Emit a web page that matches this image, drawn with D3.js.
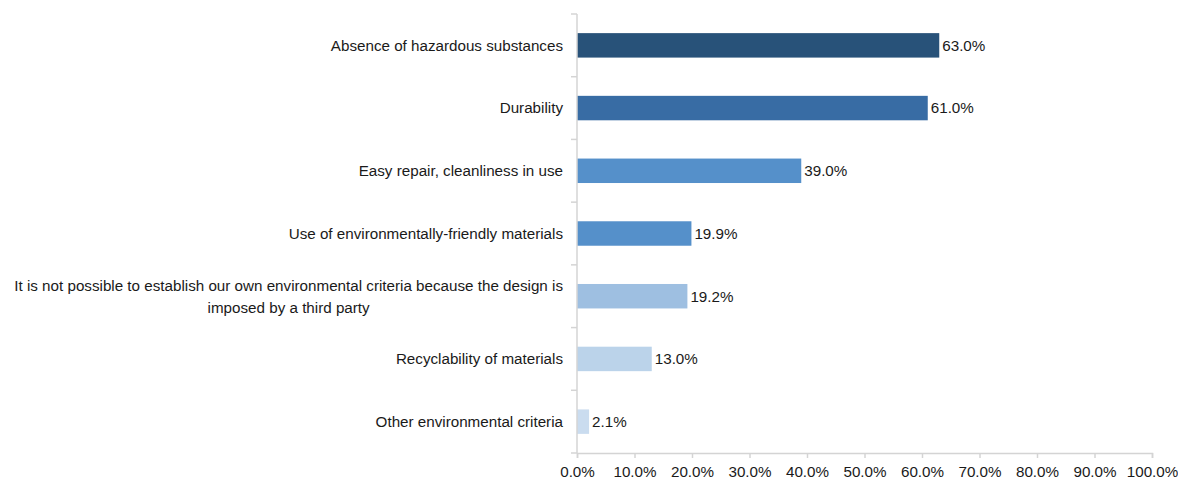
<!DOCTYPE html>
<html>
<head>
<meta charset="utf-8">
<script src="https://cdn.jsdelivr.net/npm/d3@7"></script>
<style>
  html, body { margin: 0; padding: 0; background: #fff; }
  svg { display: block; font-family: "Liberation Sans", Arial, sans-serif; }
</style>
</head>
<body>
<svg id="chart" width="1178" height="480"></svg>
<script>
// Environmental criteria considered in product design (% of respondents)
const categories = [
  "Absence of hazardous substances",
  "Durability",
  "Easy repair, cleanliness in use",
  "Use of environmentally-friendly materials",
  "It is not possible to establish our own environmental criteria because the design is|imposed by a third party",
  "Recyclability of materials",
  "Other environmental criteria"
];
const values = [63.0, 61.0, 39.0, 19.9, 19.2, 13.0, 2.1];
const barColors = ["#285279", "#386ca4", "#5590ca", "#5590ca", "#9ebfe1", "#bbd3ea", "#cadcef"];
const xTicks = [0, 10, 20, 30, 40, 50, 60, 70, 80, 90, 100];

const svg = d3.select("#chart");
const margin = { top: 14, right: 26, bottom: 27, left: 577 };
const W = 1178, H = 480;
const fontSize = 15.2;

const x = d3.scaleLinear().domain([0, 100]).range([margin.left, W - margin.right]);
const y = d3.scaleBand().domain(categories).range([margin.top, H - margin.bottom]).padding(0);
const barH = y.bandwidth() * 0.39;

const axisColor = "#d4d4d4";

// bars
svg.append("g").selectAll("rect")
  .data(categories)
  .join("rect")
  .attr("x", x(0))
  .attr("y", d => y(d) + (y.bandwidth() - barH) / 2)
  .attr("width", (d, i) => x(values[i]) - x(0))
  .attr("height", barH)
  .attr("fill", (d, i) => barColors[i]);

// value labels
svg.append("g").selectAll("text")
  .data(categories)
  .join("text")
  .attr("x", (d, i) => x(values[i]) + 3)
  .attr("y", d => y(d) + y.bandwidth() / 2)
  .attr("dy", "0.35em")
  .attr("font-size", fontSize)
  .attr("fill", "#1a1a1a")
  .text((d, i) => values[i].toFixed(1) + "%");

// left axis line and category separators
const yAxisG = svg.append("g");
yAxisG.append("line")
  .attr("x1", x(0)).attr("x2", x(0))
  .attr("y1", margin.top).attr("y2", H - margin.bottom)
  .attr("stroke", axisColor).attr("stroke-width", 1.5);
const bounds = categories.map(d => y(d)).concat([y.range()[1]]);
yAxisG.selectAll("line.sep")
  .data(bounds)
  .join("line")
  .attr("class", "sep")
  .attr("x1", x(0) - 6).attr("x2", x(0))
  .attr("y1", d => d).attr("y2", d => d)
  .attr("stroke", axisColor).attr("stroke-width", 1.5);

// category labels (multi-line labels centred within their block, block right-aligned)
const labelRight = x(0) - 14;
categories.forEach(cat => {
  const lines = cat.split("|");
  const cy = y(cat) + y.bandwidth() / 2;
  const lh = 22;
  const g = svg.append("g");
  const texts = lines.map((ln, k) =>
    g.append("text")
      .attr("y", cy + (k - (lines.length - 1) / 2) * lh)
      .attr("dy", "0.35em")
      .attr("font-size", fontSize)
      .attr("fill", "#1a1a1a")
      .text(ln)
  );
  const widths = texts.map(t => t.node().getComputedTextLength());
  const maxW = Math.max(...widths);
  const centre = labelRight - maxW / 2;
  texts.forEach(t => t.attr("x", centre).attr("text-anchor", "middle"));
});

// bottom axis
const xAxis = d3.axisBottom(x)
  .tickValues(xTicks)
  .tickSize(5)
  .tickPadding(8)
  .tickFormat(d => d.toFixed(1) + "%");
const xg = svg.append("g")
  .attr("transform", `translate(0,${H - margin.bottom})`)
  .call(xAxis);
xg.select(".domain").attr("stroke", axisColor).attr("stroke-width", 1.5);
xg.selectAll(".tick line").attr("stroke", axisColor).attr("stroke-width", 1.5);
xg.selectAll(".tick text")
  .attr("font-size", fontSize)
  .attr("font-family", "Liberation Sans, Arial, sans-serif")
  .attr("fill", "#1a1a1a");
</script>
</body>
</html>
